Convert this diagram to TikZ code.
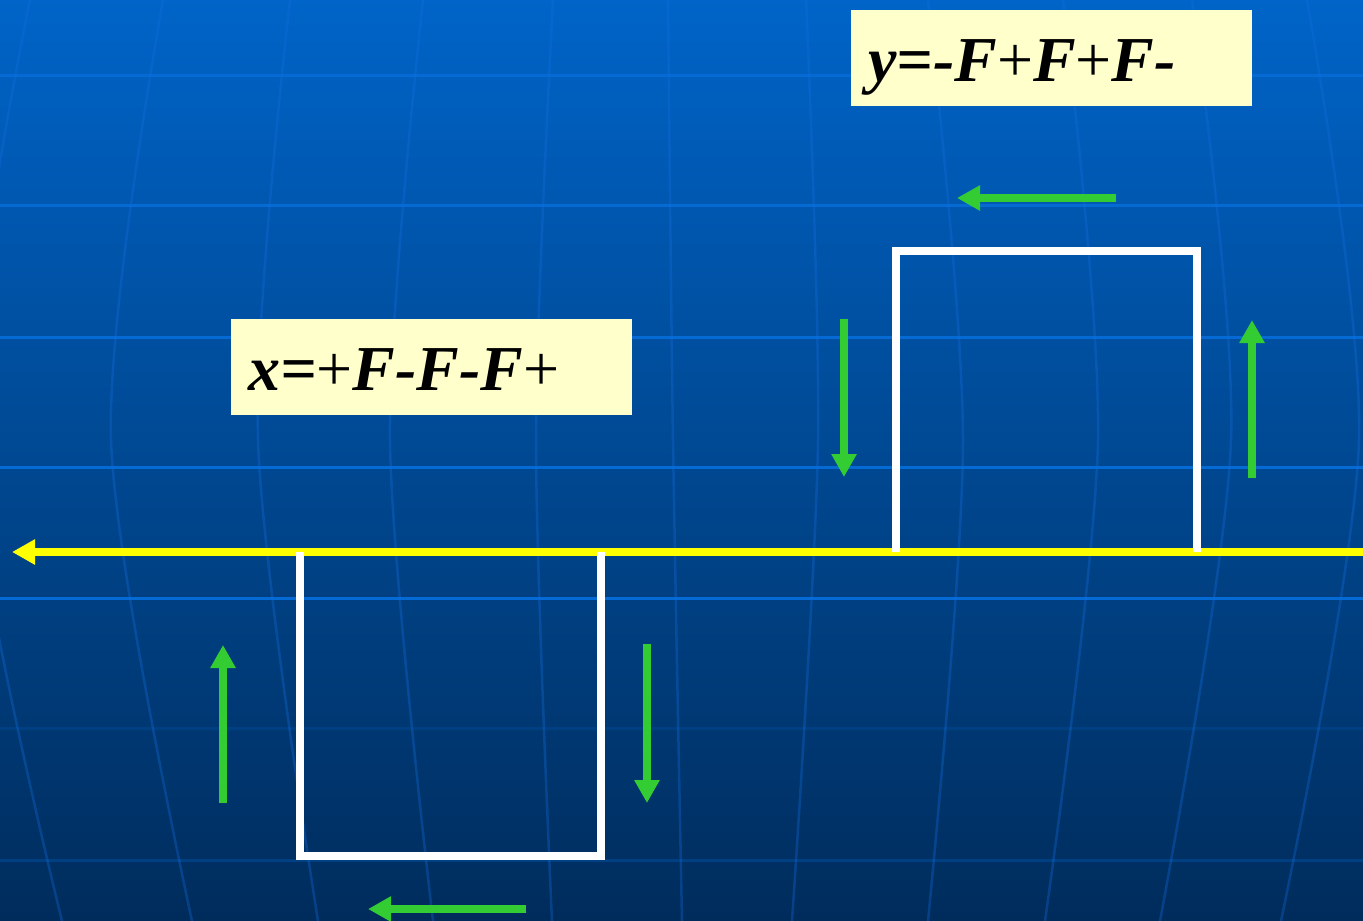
\documentclass[tikz,border=0pt]{standalone}
\usepackage{fontspec}
\setmainfont{Liberation Serif}
\usetikzlibrary{arrows.meta}
\definecolor{bgtop}{RGB}{0,100,200}
\definecolor{bgmid}{RGB}{0,80,160}
\definecolor{bgbot}{RGB}{0,44,92}
\definecolor{gridhi}{RGB}{5,106,212}
\definecolor{gridlo}{RGB}{0,64,130}
\definecolor{meridian}{RGB}{20,110,225}
\definecolor{boxfill}{RGB}{255,255,204}
\definecolor{turtle}{RGB}{51,204,51}
\definecolor{axisyellow}{RGB}{255,255,0}

\begin{document}
\begin{tikzpicture}[x=1pt,y=-1pt]
	\tikzset{gridh/.style={draw=gridhi,line width=3pt}}
	\tikzset{gridl/.style={draw=gridlo,line width=3pt}}
	\tikzset{meridianline/.style={draw=meridian,opacity=.32,line width=2.5pt}}
	\tikzset{rulebox/.style={fill=boxfill,anchor=north west,inner xsep=17pt,inner ysep=0pt,
		text width=367pt,align=left,minimum height=96pt,text height=71pt,text depth=24pt,
		font=\fontsize{64}{70}\selectfont}}
	\tikzset{axisline/.style={draw=axisyellow,line width=8pt,-{Triangle[length=23pt,width=24pt]}}}
	\tikzset{pathline/.style={draw=white,line width=7.5pt,line join=miter}}
	\tikzset{move/.style={draw=turtle,line width=7.5pt,-{Triangle[length=23pt,width=24pt]}}}
	\useasboundingbox (0,0) rectangle (1363,921);
	% background
	\begin{scope}
	\clip (0,0) rectangle (1363,921);
	\shade[top color=bgtop,middle color=bgmid,bottom color=bgbot] (0,0) rectangle (1363,921);
	\foreach \y in {75,205,337,467,598}
		\draw[gridh] (0,\y) -- (1363,\y);
	\foreach \y in {728,860}
		\draw[gridl] (0,\y) -- (1363,\y);
	\foreach \a/\b/\c in {30/-30/62,163/111/192,290/258/318,423/390/433,553/536/552,668/673/682,
		806/818/792,928/963/928,1063/1098/1045,1192/1231/1160,1307/1359/1281}
		\draw[meridianline] plot[smooth] coordinates {(\a,0) (\b,440) (\c,921)};
	\end{scope}
	% rules
	\node[rulebox] (yrule) at (851,10) {{\bfseries\itshape y=-F}+{\bfseries\itshape F}+{\bfseries\itshape F-}};
	\node[rulebox] (xrule) at (231,319) {{\bfseries\itshape x=}+{\bfseries\itshape F-F-F}+};
	% axis
	\coordinate (axs) at (1363,552);
	\coordinate (axe) at (12,552);
	\draw[axisline] (axs) -- (axe);
	% the two squares
	\coordinate (lo1) at (300,552); \coordinate (lo2) at (300,856);
	\coordinate (lo3) at (601,856); \coordinate (lo4) at (601,552);
	\coordinate (up1) at (896,552); \coordinate (up2) at (896,251);
	\coordinate (up3) at (1197,251); \coordinate (up4) at (1197,552);
	\draw[pathline] (lo1) -- (lo2) -- (lo3) -- (lo4);
	\draw[pathline] (up1) -- (up2) -- (up3) -- (up4);
	% turning directions
	\coordinate (m1s) at (223,803); \coordinate (m1e) at (223,645);
	\coordinate (m2s) at (647,644); \coordinate (m2e) at (647,803);
	\coordinate (m3s) at (526,909); \coordinate (m3e) at (368,909);
	\coordinate (m4s) at (844,319); \coordinate (m4e) at (844,477);
	\coordinate (m5s) at (1252,478); \coordinate (m5e) at (1252,320);
	\coordinate (m6s) at (1116,198); \coordinate (m6e) at (957,198);
	\foreach \m in {1,...,6}
		\draw[move] (m\m s) -- (m\m e);
\end{tikzpicture}
\end{document}
